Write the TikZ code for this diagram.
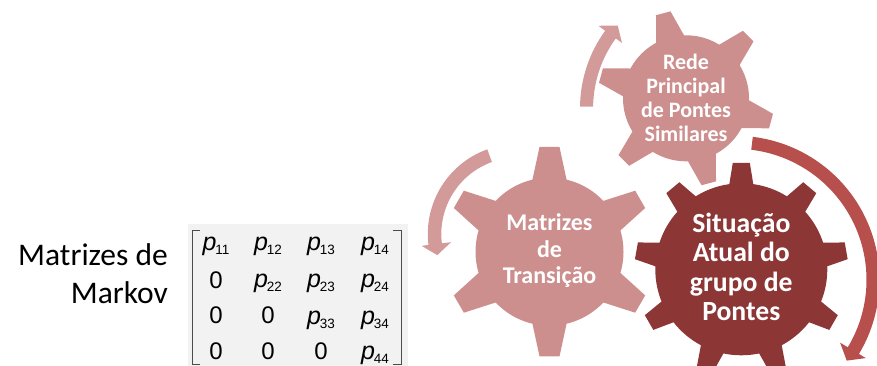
\documentclass[tikz,border=0pt]{standalone}
\usepackage{xcolor}
\usepackage{fontspec}
\setmainfont{Carlito}
\newfontfamily\matfont{Liberation Sans}
\usepackage{tikz}

\definecolor{gearlight}{HTML}{CD8F8E}
\definecolor{geardark}{HTML}{8C3636}
\definecolor{arrowlight}{HTML}{D29B9A}
\definecolor{arrowdark}{HTML}{B7504D}
\definecolor{matrixbg}{HTML}{F2F2F2}

% Ingranaggio: centro, raggio, raggio dente, mezza base, mezza punta, lista angoli, colore
\newcommand{\gearwheel}[7]{%
  \fill[#7] (#1) circle[radius=#2];
  \foreach \ang in {#6} {
    \fill[#7, shift={(#1)}, rotate=\ang]
      (#2-4, -#4) -- (#3, -#5) -- (#3, #5) -- (#2-4, #4) -- cycle;
  }
}
% Freccia curva: centro, angolo inizio, angolo collo, angolo punta, r interno, r esterno, ala interna, ala esterna, colore
\newcommand{\bendarrow}[9]{%
  \fill[#9, shift={(#1)}] (#2:#6) arc[start angle=#2, end angle=#3, radius=#6]
    -- (#3:#8) -- ({#4}:{(#5+#6)/2}) -- (#3:#7) -- (#3:#5)
    arc[start angle=#3, end angle=#2, radius=#5] -- cycle;
}

\begin{document}
\begin{tikzpicture}[
    x=1pt, y=1pt,
    % Stili comuni per etichette e matrice.
    gear label/.style={align=center, text=white, inner sep=0pt},
    side label/.style={align=right, anchor=east, font=\fontsize{31.5}{38}\selectfont, inner sep=0pt},
    entry/.style={font=\matfont\fontsize{24}{24}\selectfont, inner sep=0pt},
    bracket/.style={draw=black!70, line width=0.7pt}
]
\useasboundingbox (0,0) rectangle (877,366);

% Ingranaggi
\coordinate (simC) at (686,267.7);
\coordinate (traC) at (549.5,114.3);
\coordinate (sitC) at (741.3,96.7);
\gearwheel{simC}{63}{88}{15}{7.5}{105,45,-15,-75,-135,165}{gearlight}
\gearwheel{traC}{74}{104.7}{17.5}{10}{90,30,-30,-90,-150,150}{gearlight}
\gearwheel{sitC}{86}{106.5}{12.5}{8.5}{90,50,10,-30,-70,-110,-150,170,130}{geardark}

% Frecce curve, con centri propri
\coordinate (simA) at (711.8,257.8);
\coordinate (traA) at (517.8,132);
\coordinate (sitA) at (735.5,86.2);
\bendarrow{simA}{179.3}{144}{138.7}{118.7}{131.8}{111}{140.2}{arrowlight}
\bendarrow{traA}{109.8}{187}{194.7}{76.5}{90}{67.2}{97}{arrowlight}
\bendarrow{sitA}{83.1}{-31}{-36}{131}{144}{122}{152}{arrowdark}

% Testi degli ingranaggi
\node[gear label, font=\bfseries\fontsize{22}{23.8}\selectfont] (sim) at (686,268) {Rede\\Principal\\de Pontes\\Similares};
\node[gear label, font=\bfseries\fontsize{24}{26.5}\selectfont] (tra) at (549.5,115) {Matrizes\\de\\Transição};
\node[gear label, font=\bfseries\fontsize{27.7}{29.5}\selectfont] (sit) at (741.3,99) {Situação\\Atual do\\grupo de\\Pontes};

\node[side label] (mar) at (168,92) {Matrizes de\\Markov};

% Matrice di transizione
\fill[matrixbg] (188,0) rectangle (408,142);
\draw[bracket] (200,135.3) -- (192.7,135.3) -- (192.7,1.5) -- (200,1.5);
\draw[bracket] (393.3,135.3) -- (401,135.3) -- (401,1.5) -- (393.3,1.5);

\foreach \nm/\cx/\cy/\sb in {a/216/119.5/11, b/268/119.5/12, c/321/119.5/13, d/375/119.5/14,
                            f/268/83/22, g/321/83/23, h/375/83/24,
                            l/321/46/33, m/375/46/34,
                            r/375/10.5/44} {
  \node[entry] (p\nm) at (\cx,\cy) {\fontsize{25}{25}\selectfont\itshape p\kern-1pt\raisebox{-4pt}{\upshape\fontsize{13.5}{13.5}\selectfont\sb}};
}
\node[entry] (e) at (216,86) {0};
\node[entry] (i) at (216,51) {0};
\node[entry] (j) at (268,51) {0};
\node[entry] (n) at (216,14.3) {0};
\node[entry] (o) at (268,14.3) {0};
\node[entry] (q) at (321,14.3) {0};
\end{tikzpicture}
\end{document}
